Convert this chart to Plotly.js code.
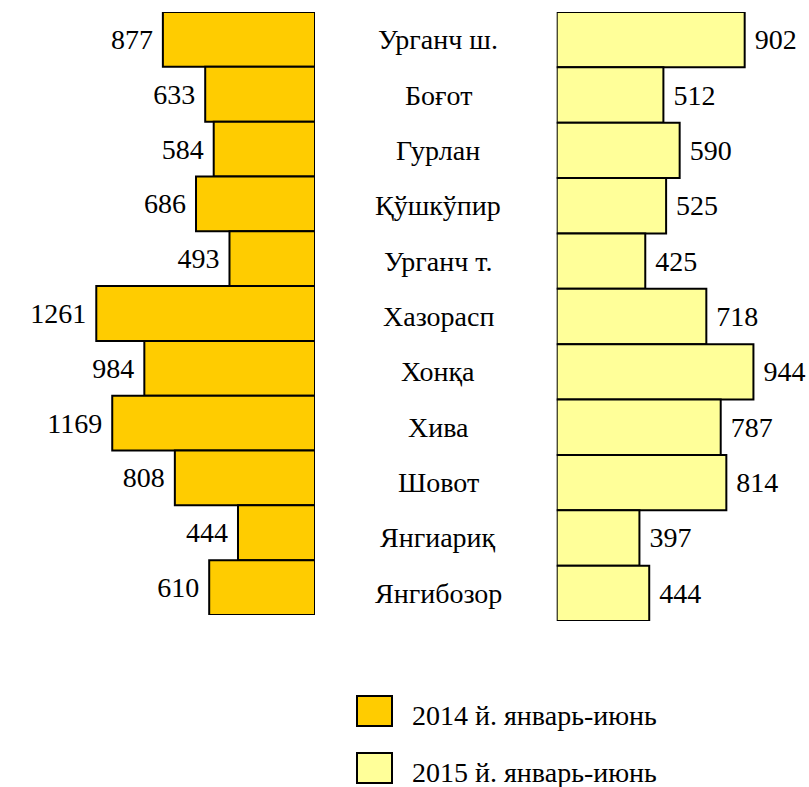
<!DOCTYPE html>
<html>
<head>
<meta charset="utf-8">
<script src="https://cdn.plot.ly/plotly-3.0.1.min.js"></script>
</head>
<body style="margin:0">
<div id="chart"></div>
<script>
const categories = ['Урганч ш.', 'Боғот', 'Гурлан', 'Қўшкўпир', 'Урганч т.', 'Хазорасп', 'Хонқа', 'Хива', 'Шовот', 'Янгиариқ', 'Янгибозор'];
const values2014 = [877, 633, 584, 686, 493, 1261, 984, 1169, 808, 444, 610];
const values2015 = [902, 512, 590, 525, 425, 718, 944, 787, 814, 397, 444];
const seriesNames = ['2014 й. январь-июнь', '2015 й. январь-июнь'];
const seriesColors = ['#FFCC00', '#FFFF99'];

const W = 809, H = 787;
const FONT = 'Liberation Serif';
const px = v => v / W;
const py = v => 1 - v / H;

const traces = [
  {
    type: 'bar', orientation: 'h',
    y: categories, x: values2014,
    xaxis: 'x', yaxis: 'y',
    name: seriesNames[0],
    marker: {color: seriesColors[0], line: {color: 'black', width: 2}},
    text: values2014.map(v => v + '\u00a0'),
    textposition: 'outside',
    textfont: {family: FONT, size: 28, color: 'black'}
  },
  {
    type: 'bar', orientation: 'h',
    y: categories, x: values2015,
    xaxis: 'x2', yaxis: 'y2',
    name: seriesNames[1],
    marker: {color: seriesColors[1], line: {color: 'black', width: 2}},
    text: values2015.map(v => '\u00a0' + v),
    textposition: 'outside',
    textfont: {family: FONT, size: 28, color: 'black'}
  }
];

const hidden = {showgrid: false, zeroline: false, showticklabels: false, showline: false, ticks: ''};

const annotations = categories.map(c => ({
  xref: 'paper', yref: 'y2', x: px(438), y: c,
  text: c, showarrow: false, xanchor: 'center', yanchor: 'middle',
  font: {family: FONT, size: 28, color: 'black'}
}));

const shapes = [];
const legendY = [711, 768];
seriesNames.forEach((n, i) => {
  const cy = legendY[i];
  shapes.push({
    type: 'rect', xref: 'paper', yref: 'paper',
    x0: px(357), x1: px(392), y0: py(cy + 15), y1: py(cy - 15),
    fillcolor: seriesColors[i], line: {color: 'black', width: 2}
  });
  annotations.push({
    xref: 'paper', yref: 'paper', x: px(410), y: py(cy + 4),
    text: n, showarrow: false, xanchor: 'left', yanchor: 'middle',
    font: {family: FONT, size: 28, color: 'black'}
  });
});

const leftScale = 0.17345;   // px per unit, left panel
const rightScale = 0.2084;   // px per unit, right panel

const layout = {
  width: W, height: H,
  font: {family: FONT, color: 'black'},
  margin: {l: 0, r: 0, t: 0, b: 0, pad: 0},
  paper_bgcolor: 'white', plot_bgcolor: 'rgba(0,0,0,0)',
  bargap: 0,
  showlegend: false,
  xaxis: Object.assign({}, hidden, {domain: [0, px(315)], range: [315 / leftScale, 0], anchor: 'y'}),
  xaxis2: Object.assign({}, hidden, {domain: [px(556.7), 1], range: [0, (W - 556.7) / rightScale], anchor: 'y2'}),
  yaxis: Object.assign({}, hidden, {domain: [py(615), py(12)], type: 'category', range: [10.5, -0.5], anchor: 'x'}),
  yaxis2: Object.assign({}, hidden, {domain: [py(621), py(12)], type: 'category', range: [10.5, -0.5], anchor: 'x2'}),
  annotations: annotations,
  shapes: shapes
};

Plotly.newPlot('chart', traces, layout, {staticPlot: true});
</script>
</body>
</html>
